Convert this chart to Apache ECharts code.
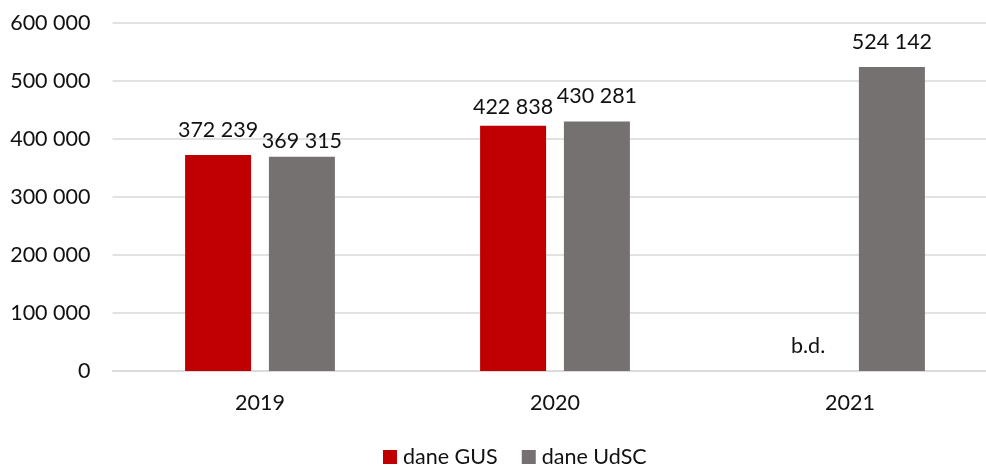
<!DOCTYPE html>
<html>
<head>
<meta charset="utf-8">
<script src="https://cdn.jsdelivr.net/npm/echarts@6/dist/echarts.min.js"></script>
<style>
  html, body { margin: 0; padding: 0; background: #fff; }
  #chart { width: 986px; height: 466px; }
</style>
</head>
<body>
<div id="chart"></div>
<script>
var years = ['2019', '2020', '2021'];
var daneGUS = [372239, 422838, null];   // null = b.d. (brak danych)
var daneUdSC = [369315, 430281, 524142];
var yTicks = [0, 100000, 200000, 300000, 400000, 500000, 600000];

var FONT = 'Lato';
var TXT = '#111';

// odstep etykiety od slupka (Excel przesuwa nachodzace etykiety)
var labelDist = { 'GUS-1': 8, 'UdSC-0': 5 };

function fmt(v) {
  return String(v).replace(/\B(?=(\d{3})+(?!\d))/g, ' ');
}

function buildData(arr, key) {
  return arr.map(function (v, i) {
    var d = labelDist[key + '-' + i];
    var item = { value: v == null ? 0 : v };
    item.label = { formatter: v == null ? 'b.d.' : fmt(v) };
    if (d != null) item.label.distance = d;
    return item;
  });
}

var chart = echarts.init(document.getElementById('chart'), null, { renderer: 'canvas' });

var labelCommon = {
  show: true,
  position: 'top',
  distance: 14,
  color: TXT,
  fontFamily: FONT,
  fontSize: 21.5
};

chart.setOption({
  animation: false,
  color: ['#C00000', '#767171'],
  textStyle: { fontFamily: FONT },
  grid: {
    left: 112.5, right: -11.5, top: 23, bottom: 95,
    containLabel: false, outerBoundsMode: 'none'
  },
  legend: {
    data: ['dane GUS', 'dane UdSC'],
    left: 378,
    top: 441,
    icon: 'rect',
    itemWidth: 14,
    itemHeight: 14,
    itemGap: 24,
    textStyle: { color: TXT, fontFamily: FONT, fontSize: 21.5, padding: [0, 0, 0, 1] }
  },
  xAxis: {
    type: 'category',
    data: years,
    axisTick: { show: false },
    axisLine: { lineStyle: { color: '#D9D9D9', width: 1.5 } },
    axisLabel: { color: TXT, fontFamily: FONT, fontSize: 21.5, margin: 21 }
  },
  yAxis: {
    type: 'value',
    min: yTicks[0],
    max: yTicks[yTicks.length - 1],
    interval: yTicks[1] - yTicks[0],
    axisLine: { show: false },
    axisTick: { show: false },
    splitLine: { lineStyle: { color: '#D9D9D9', width: 1.5 } },
    axisLabel: {
      color: TXT, fontFamily: FONT, fontSize: 21.5, margin: 22,
      formatter: function (v) { return fmt(v); }
    }
  },
  series: [
    {
      name: 'dane GUS',
      type: 'bar',
      data: buildData(daneGUS, 'GUS'),
      barWidth: 66,
      barGap: '27%',
      label: labelCommon
    },
    {
      name: 'dane UdSC',
      type: 'bar',
      data: buildData(daneUdSC, 'UdSC'),
      barWidth: 66,
      barGap: '27%',
      label: labelCommon
    }
  ]
});
</script>
</body>
</html>
